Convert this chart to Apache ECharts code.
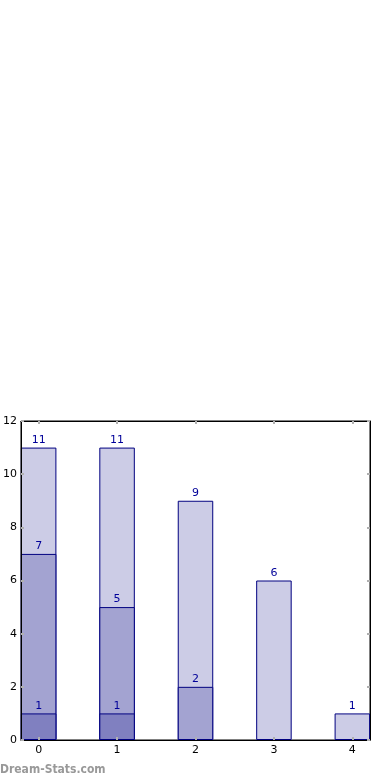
<!DOCTYPE html>
<html><head><meta charset="utf-8">
<script src="https://cdn.jsdelivr.net/npm/echarts@6/dist/echarts.min.js"></script>
<style>html,body{margin:0;padding:0;background:#fff}#c{width:390px;height:780px}</style>
</head><body><div id="c"></div>
<script>
const categories = [0, 1, 2, 3, 4];
const totalValues = [11, 11, 9, 6, 1];
const midValues = [7, 5, 2, null, null];
const lowValues = [1, 1, null, null, null];
const yTicks = [0, 2, 4, 6, 8, 10, 12];

function pairs(vals){ return categories.map((c,i)=> vals[i]==null ? [c,'-'] : [c, vals[i]]); }
const lbl = {show:true, position:'top', distance:2, color:'#000099', fontFamily:'DejaVu Sans', fontSize:11};
function bar(vals, color){
  return {type:'bar', data:pairs(vals), barWidth:35.5, barGap:'-100%', z:2,
    itemStyle:{color:color, borderColor:'#000080', borderWidth:1},
    label:lbl, silent:true, animation:false};
}
const tickStyle = {show:true, inside:true, length:3, lineStyle:{color:'#b0b0b0', width:2}};
const chart = echarts.init(document.getElementById('c'));
chart.setOption({
  animation:false,
  grid:{left:19, right:20, top:421, bottom:40, show:true, borderColor:'#000', borderWidth:1, containLabel:false},
  xAxis:[{type:'value', min:-0.225, max:4.225, position:'bottom', z:5,
    axisLine:{show:true, onZero:false, lineStyle:{color:'#000'}}, splitLine:{show:false},
    axisTick:Object.assign({customValues:categories}, tickStyle),
    axisLabel:{customValues:categories, color:'#000', fontFamily:'DejaVu Sans', fontSize:11, margin:5}},
    {type:'value', min:-0.225, max:4.225, position:'top', z:5,
    axisLine:{show:true, onZero:false, lineStyle:{color:'#000'}}, splitLine:{show:false},
    axisTick:Object.assign({customValues:categories}, tickStyle), axisLabel:{show:false}}],
  yAxis:[{type:'value', min:0, max:12, interval:2, position:'left', z:5,
    axisLine:{show:true, onZero:false, lineStyle:{color:'#000'}}, splitLine:{show:false},
    axisTick:tickStyle,
    axisLabel:{color:'#000', fontFamily:'DejaVu Sans', fontSize:11, margin:4}},
    {type:'value', min:0, max:12, interval:2, position:'right', z:5,
    axisLine:{show:true, onZero:false, lineStyle:{color:'#000'}}, splitLine:{show:false},
    axisTick:tickStyle, axisLabel:{show:false}}],
  series:[bar(totalValues,'#ccccE6'), bar(midValues,'#a3a3d1'), bar(lowValues,'#8080c0')],
  graphic:[{type:'text', left:0, top:764, style:{text:'Dream-Stats.com', fill:'#999999', font:'bold 12px "DejaVu Sans Condensed"'}}]
});
</script></body></html>
